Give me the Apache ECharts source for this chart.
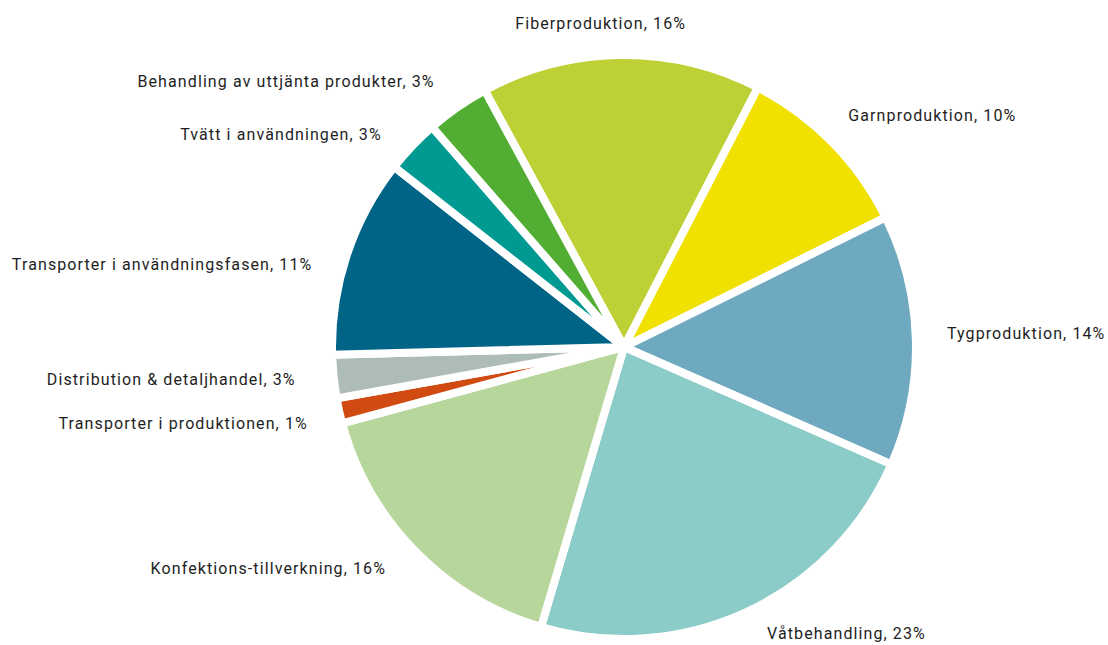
<!DOCTYPE html>
<html>
<head>
<meta charset="utf-8">
<style>
  html, body { margin: 0; padding: 0; background: #fff; }
  #chart { width: 1108px; height: 645px; }
  /* etiketterna i förlagan har lite luftigare spärrning */
  #chart text { letter-spacing: 1.1px; }
</style>
<script src="https://cdn.jsdelivr.net/npm/echarts@6/dist/echarts.min.js"></script>
</head>
<body>
<div id="chart"></div>
<script>
// kategorier, medurs från toppen
const categories = [
  'Fiberproduktion',
  'Garnproduktion',
  'Tygproduktion',
  'Våtbehandling',
  'Konfektions-tillverkning',
  'Transporter i produktionen',
  'Distribution & detaljhandel',
  'Transporter i användningsfasen',
  'Tvätt i användningen',
  'Behandling av uttjänta produkter'
];
// andelar
const values = [15.5, 10.1, 13.9, 23, 16.2, 1.4, 2.4, 11, 3, 3.5];
// procentsatser som visas i etiketterna
const labelPct = [16, 10, 14, 23, 16, 1, 3, 11, 3, 3];
const colors = [
  '#bdd136', '#f0e100', '#6fa9c0', '#8bcbc8', '#b7d69b',
  '#d04a12', '#adbdb5', '#006487', '#009a93', '#52ae32'
];

// små justeringar av etiketternas läge [dx, dy]
const labelNudge = [
  [-15, -1], [-11, -5], [-5, -6], [2, -6], [-2, -4],
  [4, 6], [-2, 0], [0, 19], [-3, 10], [0, 0]
];

const chart = echarts.init(document.getElementById('chart'), null, { renderer: 'svg' });

chart.setOption({
  animation: false,
  series: [
    {
      type: 'pie',
      center: [624, 347],
      radius: 292,
      startAngle: 118.5,
      clockwise: true,
      avoidLabelOverlap: false,
      itemStyle: {
        borderColor: '#fff',
        borderWidth: 8
      },
      label: {
        show: true,
        position: 'outside',
        fontFamily: 'Roboto',
        fontSize: 16,
        color: '#1e1e1e',
        formatter: p => p.name + ', ' + labelPct[p.dataIndex] + '%'
      },
      labelLine: {
        show: false,
        length: 31,
        length2: 0
      },
      labelLayout: p => {
        const n = labelNudge[p.dataIndex];
        const res = { dx: n[0], dy: n[1] };
        if (p.dataIndex === 0) res.align = 'center';
        return res;
      },
      data: categories.map((name, i) => ({
        name: name,
        value: values[i],
        itemStyle: { color: colors[i] }
      }))
    }
  ]
});
</script>
</body>
</html>
